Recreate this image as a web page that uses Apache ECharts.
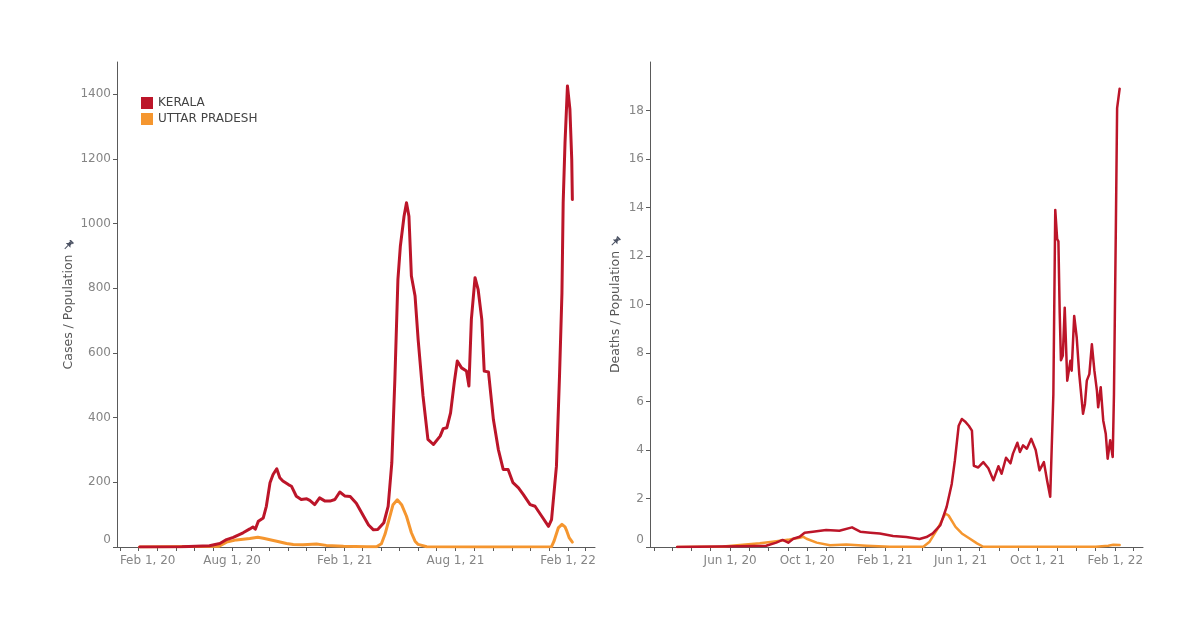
<!DOCTYPE html>
<html>
<head>
<meta charset="utf-8">
<script src="https://cdn.jsdelivr.net/npm/echarts@6/dist/echarts.min.js"></script>
<style>html,body{margin:0;padding:0;background:#fff}#c{width:1198px;height:625px}</style>
</head>
<body>
<div id="c"></div>
<script>
// ---- Data ----
const keralaCaseDates = ['2020-03-03','2020-05-11','2020-06-25','2020-07-12','2020-07-23','2020-08-03','2020-08-19','2020-08-30','2020-09-04','2020-09-08','2020-09-13','2020-09-21','2020-09-26','2020-10-02','2020-10-07','2020-10-13','2020-10-18','2020-10-23','2020-11-01','2020-11-06','2020-11-14','2020-11-22','2020-12-01','2020-12-06','2020-12-14','2020-12-22','2020-12-31','2021-01-08','2021-01-16','2021-01-24','2021-02-01','2021-02-10','2021-02-20','2021-03-03','2021-03-12','2021-03-20','2021-03-27','2021-04-06','2021-04-13','2021-04-19','2021-04-24','2021-04-29','2021-05-03','2021-05-09','2021-05-13','2021-05-17','2021-05-21','2021-05-27','2021-06-01','2021-06-09','2021-06-17','2021-06-26','2021-07-07','2021-07-12','2021-07-18','2021-07-24','2021-07-30','2021-08-04','2021-08-11','2021-08-19','2021-08-23','2021-08-27','2021-09-02','2021-09-07','2021-09-13','2021-09-17','2021-09-24','2021-10-02','2021-10-10','2021-10-18','2021-10-26','2021-11-03','2021-11-12','2021-11-20','2021-12-01','2021-12-09','2021-12-20','2021-12-31','2022-01-05','2022-01-13','2022-01-18','2022-01-22','2022-01-24','2022-01-27','2022-01-31','2022-02-03','2022-02-04','2022-02-07','2022-02-08'];
const keralaCases = [0,1,4,11,23,30,44,56,62,55,80,90,126,199,224,242,214,204,193,188,157,147,149,144,131,152,142,142,147,170,158,156,135,98,68,53,54,75,126,260,518,828,931,1023,1065,1023,838,776,642,467,333,317,343,366,369,415,508,575,554,544,498,704,833,797,704,544,541,394,302,240,240,199,183,162,131,126,95,64,85,250,528,786,1065,1250,1426,1421,1354,1199,1075];

const upCaseDates = ['2020-03-03','2020-07-10','2020-07-23','2020-08-08','2020-08-30','2020-09-12','2020-09-21','2020-10-13','2020-10-29','2020-11-09','2020-11-25','2020-12-17','2021-01-02','2021-01-30','2021-03-09','2021-03-25','2021-04-02','2021-04-08','2021-04-13','2021-04-21','2021-04-28','2021-05-05','2021-05-13','2021-05-21','2021-05-27','2021-06-01','2021-06-15','2021-09-23','2022-01-05','2022-01-09','2022-01-16','2022-01-22','2022-01-27','2022-01-30','2022-02-03','2022-02-08'];
const upCases = [0,2,15,22,26,30,27,18,11,8,7,9,5,2,0.6,1,10,40,75,131,146,131,95,44,18,8,1,0.3,1,18,59,70,62,49,28,15];

const keralaDeathDates = ['2020-03-09','2020-06-16','2020-07-28','2020-08-13','2020-08-23','2020-09-01','2020-09-09','2020-09-19','2020-09-27','2020-10-10','2020-10-31','2020-11-21','2020-12-11','2020-12-24','2021-01-09','2021-01-24','2021-02-14','2021-03-07','2021-03-28','2021-04-08','2021-04-18','2021-04-30','2021-05-10','2021-05-18','2021-05-23','2021-05-29','2021-06-03','2021-06-08','2021-06-14','2021-06-19','2021-06-22','2021-06-29','2021-07-07','2021-07-15','2021-07-23','2021-07-31','2021-08-05','2021-08-12','2021-08-19','2021-08-23','2021-08-30','2021-09-03','2021-09-08','2021-09-14','2021-09-21','2021-09-28','2021-10-04','2021-10-11','2021-10-16','2021-10-21','2021-10-26','2021-10-29','2021-11-01','2021-11-03','2021-11-05','2021-11-07','2021-11-10','2021-11-13','2021-11-17','2021-11-22','2021-11-24','2021-11-28','2021-12-02','2021-12-06','2021-12-12','2021-12-15','2021-12-18','2021-12-22','2021-12-26','2021-12-30','2022-01-03','2022-01-05','2022-01-09','2022-01-13','2022-01-17','2022-01-20','2022-01-24','2022-01-28','2022-01-30','2022-02-02','2022-02-04','2022-02-08'];
const keralaDeaths = [0,0.03,0.05,0.18,0.29,0.18,0.34,0.42,0.59,0.63,0.70,0.67,0.81,0.63,0.59,0.56,0.45,0.41,0.33,0.41,0.56,0.9,1.66,2.6,3.57,5.0,5.28,5.18,5.0,4.8,3.35,3.28,3.5,3.25,2.75,3.33,3.02,3.68,3.45,3.85,4.3,3.92,4.19,4.05,4.46,4.0,3.16,3.5,2.75,2.07,6.3,13.9,12.7,12.6,9.7,7.7,7.9,9.87,6.86,7.68,7.27,9.53,8.64,7.13,5.49,5.9,6.86,7.13,8.36,7.27,6.45,5.76,6.59,5.22,4.67,3.64,4.4,3.71,6.3,13.2,18.1,18.9];

const upDeathDates = ['2020-03-09','2020-05-21','2020-06-12','2020-07-18','2020-08-07','2020-09-03','2020-09-19','2020-09-25','2020-09-30','2020-10-16','2020-11-06','2020-12-02','2021-01-03','2021-02-09','2021-04-03','2021-04-13','2021-04-26','2021-05-08','2021-05-13','2021-05-24','2021-06-03','2021-06-14','2021-06-27','2021-07-07','2022-01-01','2022-01-21','2022-01-29','2022-02-08'];
const upDeaths = [0,0.02,0.07,0.15,0.22,0.31,0.38,0.42,0.34,0.18,0.07,0.1,0.05,0.01,0.01,0.22,0.77,1.38,1.3,0.83,0.56,0.37,0.15,0.01,0.01,0.05,0.09,0.08];

const caseTicks = [0,200,400,600,800,1000,1200,1400];
const deathTicks = [0,2,4,6,8,10,12,14,16,18];
const caseDateLabels = ['2020-02-01','2020-08-01','2021-02-01','2021-08-01','2022-02-01'];
const deathDateLabels = ['2020-06-01','2020-10-01','2021-02-01','2021-06-01','2021-10-01','2022-02-01'];
const seriesNames = ['KERALA','UTTAR PRADESH'];

// ---- Helpers ----
function ts(s){const p=s.split('-').map(Number);return new Date(p[0],p[1]-1,p[2]).getTime();}
function pairs(dates,vals){return dates.map((d,i)=>[ts(d),vals[i]]);}
const MON=['Jan','Feb','Mar','Apr','May','Jun','Jul','Aug','Sep','Oct','Nov','Dec'];
function fmtDate(v){const d=new Date(v);return MON[d.getMonth()]+' '+d.getDate()+', '+String(d.getFullYear()).slice(2);}
const monthly=[];for(let y=2020,m=1;y<2022||(y===2022&&m<=2);){monthly.push(new Date(y,m,1).getTime());m++;if(m>11){m=0;y++;}}
const xMin=ts('2020-01-26'), xMax=ts('2022-03-17');
const RED='#BC1529', ORANGE='#F5962F';
const axisCol='#5a5a5a', labCol='#858585';
const FONT='DejaVu Sans';
const pinSvg='data:image/svg+xml;utf8,'+encodeURIComponent('<svg xmlns="http://www.w3.org/2000/svg" width="22" height="22" viewBox="0 0 10 10"><g transform="rotate(135 5 5)" fill="#4b5263" stroke="#4b5263"><rect x="2.8" y="0.2" width="4.4" height="1.5" stroke="none"/><polygon points="3.6,1.7 6.4,1.7 6.4,3.8 8,5.5 2,5.5 3.6,3.8" stroke="none"/><line x1="5" y1="5.5" x2="5" y2="9.8" stroke-width="0.9"/></g></svg>');

function yAxisCfg(idx,max,ticks,name,gap){
  return {type:'value',gridIndex:idx,min:0,max:max,
    name:name+' {pin|}',nameLocation:'middle',nameGap:gap,
    nameTextStyle:{color:'#555',fontSize:12.5,fontFamily:FONT,rich:{pin:{width:11,height:11,backgroundColor:{image:pinSvg}}}},
    axisLine:{show:true,lineStyle:{color:axisCol,width:1}},
    axisTick:{show:true,length:4,customValues:ticks,lineStyle:{color:axisCol}},
    axisLabel:{customValues:ticks,margin:6,color:labCol,fontSize:12,fontFamily:FONT,
      formatter:v=>v===0?'{z|0}':String(v),
      rich:{z:{padding:[0,0,15,0],color:labCol,fontSize:12,fontFamily:FONT}}},
    splitLine:{show:false}};
}
function xAxisCfg(idx,labels,firstShift){
  const lv=labels.map(ts);
  return {type:'value',gridIndex:idx,min:xMin,max:xMax,scale:true,
    axisLine:{show:true,onZero:false,lineStyle:{color:axisCol,width:1}},
    axisTick:{show:true,length:4,customValues:monthly,lineStyle:{color:axisCol}},
    axisLabel:{customValues:lv,margin:8,color:labCol,fontSize:12,fontFamily:FONT,
      formatter:v=>(firstShift&&v===lv[0])?'{f|'+fmtDate(v)+'}':fmtDate(v),
      rich:{f:{padding:[0,0,0,firstShift||0],color:labCol,fontSize:12,fontFamily:FONT}}},
    splitLine:{show:false}};
}
function line(name,xi,data,color,w){
  return {name:name,type:'line',xAxisIndex:xi,yAxisIndex:xi,data:data,showSymbol:false,symbol:'none',
    lineStyle:{color:color,width:w,join:'round',cap:'round'},itemStyle:{color:color},emphasis:{disabled:true},animation:false};
}

const chart=echarts.init(document.getElementById('c'));
chart.setOption({
  animation:false,
  textStyle:{fontFamily:FONT},
  legend:{data:seriesNames,orient:'vertical',left:136,top:92,icon:'rect',itemWidth:12,itemHeight:12,itemGap:4,
    textStyle:{color:'#444',fontSize:12,fontFamily:FONT}},
  grid:[{left:117,top:62,width:478,height:485},{left:650,top:62,width:493,height:485}],
  xAxis:[xAxisCfg(0,caseDateLabels,54),xAxisCfg(1,deathDateLabels,0)],
  yAxis:[yAxisCfg(0,1500,caseTicks,'Cases / Population',42),yAxisCfg(1,20,deathTicks,'Deaths / Population',28)],
  series:[
    line(seriesNames[1],0,pairs(upCaseDates,upCases),ORANGE,3),
    line(seriesNames[0],0,pairs(keralaCaseDates,keralaCases),RED,3),
    line(seriesNames[1],1,pairs(upDeathDates,upDeaths),ORANGE,2.5),
    line(seriesNames[0],1,pairs(keralaDeathDates,keralaDeaths),RED,2.5)
  ]
});
</script>
</body>
</html>
